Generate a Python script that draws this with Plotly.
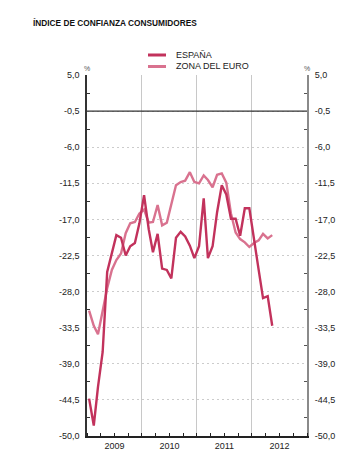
import pandas as pd
import plotly.graph_objects as go

# ---- data (monthly, Jan 2009 - May 2012) ----
start_month = "2009-01-01"
n_months = 41
espana = [-44.3, -48.4, -42.5, -37.2, -25.0, -22.2, -19.4, -19.8, -22.5, -21.1,
          -20.6, -17.6, -13.3, -18.5, -22.0, -19.2, -24.5, -24.7, -26.0, -19.8,
          -18.9, -19.6, -21.0, -22.9, -21.1, -13.8, -22.9, -21.1, -15.9, -11.8,
          -13.2, -16.9, -16.9, -19.5, -15.3, -15.3, -20.3, -24.7, -29.0, -28.7,
          -33.2]
zona_euro = [-30.9, -33.2, -34.5, -30.9, -27.5, -24.7, -23.2, -22.2, -19.1, -17.6,
             -17.4, -16.1, -15.5, -17.5, -17.4, -14.8, -17.9, -17.5, -14.6, -11.8,
             -11.3, -11.1, -9.8, -11.3, -11.5, -10.3, -11.0, -12.1, -10.2, -10.0,
             -11.4, -16.1, -19.0, -20.0, -20.5, -21.2, -20.6, -20.2, -19.2, -19.9,
             -19.4]
series_names = ["ESPAÑA", "ZONA DEL EURO"]
y_ticks = [5.0, -0.5, -6.0, -11.5, -17.0, -22.5, -28.0, -33.5, -39.0, -44.5, -50.0]
y_ticktext = ["5,0", "-0,5", "-6,0", "-11,5", "-17,0", "-22,5", "-28,0", "-33,5",
              "-39,0", "-44,5", "-50,0"]
ref_line = -0.5
x_range = ["2009-01-01", "2013-01-01"]
title = "ÍNDICE DE CONFIANZA CONSUMIDORES"

dates = pd.date_range(start_month, periods=n_months, freq="MS") + pd.Timedelta(days=14)
minor_y = [(a + b) / 2 for a, b in zip(y_ticks[:-1], y_ticks[1:])]

col_es = "#c2325c"
col_eu = "#d9728f"
FONT = "Liberation Sans, Arial, sans-serif"

# page body has an 8px margin
OFF = 8
W, H = 341, 449
L, R, T, B = 79, 42, 67, 21
PW, PH = W - L - R, H - T - B


def px(xa):
    return (xa - OFF - L) / PW


def py(ya):
    return 1 - (ya - OFF - T) / PH


fig = go.Figure()
fig.add_trace(go.Scatter(x=dates, y=zona_euro, mode="lines", name=series_names[1],
                         line=dict(color=col_eu, width=2.4), showlegend=False))
fig.add_trace(go.Scatter(x=dates, y=espana, mode="lines", name=series_names[0],
                         line=dict(color=col_es, width=2.4), showlegend=False))
# invisible trace on right axis
fig.add_trace(go.Scatter(x=dates[:1], y=[y_ticks[0]], yaxis="y2", mode="markers",
                         marker=dict(opacity=0), showlegend=False, hoverinfo="skip"))

fig.update_layout(
    width=W, height=H,
    margin=dict(l=L, r=R, t=T, b=B, pad=0, autoexpand=False),
    paper_bgcolor="white", plot_bgcolor="white",
    font=dict(family=FONT, size=9, color="#222"),
    xaxis=dict(
        type="date", range=x_range, dtick="M12", tick0="2009-01-01",
        ticklabelmode="period", tickformat="%Y", automargin=False,
        showgrid=True, gridcolor="#c8c8c8", gridwidth=1,
        showline=True, linecolor="#222", linewidth=1.5,
        ticks="inside", ticklen=3, tickcolor="#222",
        minor=dict(dtick="M3", ticks="inside", ticklen=3, tickcolor="#222", showgrid=False),
        tickfont=dict(size=9, color="#222"),
        zeroline=False, fixedrange=True,
    ),
    yaxis=dict(
        range=[y_ticks[-1], y_ticks[0]], tickvals=y_ticks, ticktext=y_ticktext,
        automargin=False,
        showgrid=True, gridcolor="#cccccc", gridwidth=1, griddash="2px,3px",
        showline=True, linecolor="#333", linewidth=1.5,
        ticks="", zeroline=False,
        minor=dict(tickvals=minor_y, ticks="inside", ticklen=3, tickcolor="#333", showgrid=False),
        tickfont=dict(size=9, color="#222"), ticklabelstandoff=4,
    ),
    yaxis2=dict(
        overlaying="y", side="right", matches="y", automargin=False,
        range=[y_ticks[-1], y_ticks[0]], tickvals=y_ticks, ticktext=y_ticktext,
        showgrid=False, showline=True, linecolor="#8a8a8a", linewidth=2,
        ticks="", zeroline=False,
        minor=dict(tickvals=minor_y, ticks="inside", ticklen=3, tickcolor="#555"),
        tickfont=dict(size=9, color="#222"), ticklabelstandoff=4,
    ),
    showlegend=False,
)

# reference line
fig.add_shape(type="line", xref="paper", x0=0, x1=1, yref="y", y0=ref_line, y1=ref_line,
              line=dict(color="#333", width=1.2), layer="above")

# title
fig.add_annotation(text="<b>" + title + "</b>", xref="paper", yref="paper",
                   x=px(31), y=py(23), xanchor="left", yanchor="middle",
                   showarrow=False, font=dict(size=8.3, color="#111"))

# legend (custom)
for i, (nm, c) in enumerate(zip(series_names, [col_es, col_eu])):
    yy = py(55 + 11.5 * i)
    fig.add_shape(type="line", xref="paper", yref="paper",
                  x0=px(148), x1=px(166), y0=yy, y1=yy,
                  line=dict(color=c, width=3))
    fig.add_annotation(text=nm, xref="paper", yref="paper", x=px(174), y=yy,
                       xanchor="left", yanchor="middle", showarrow=False,
                       font=dict(size=9, color="#222"))

# % labels
for xp in [0, 1]:
    fig.add_annotation(text="%", xref="paper", yref="paper", x=xp, y=py(68.5),
                       xanchor="center", yanchor="middle", showarrow=False,
                       font=dict(size=7, color="#555"))

fig.write_html("out.html")
